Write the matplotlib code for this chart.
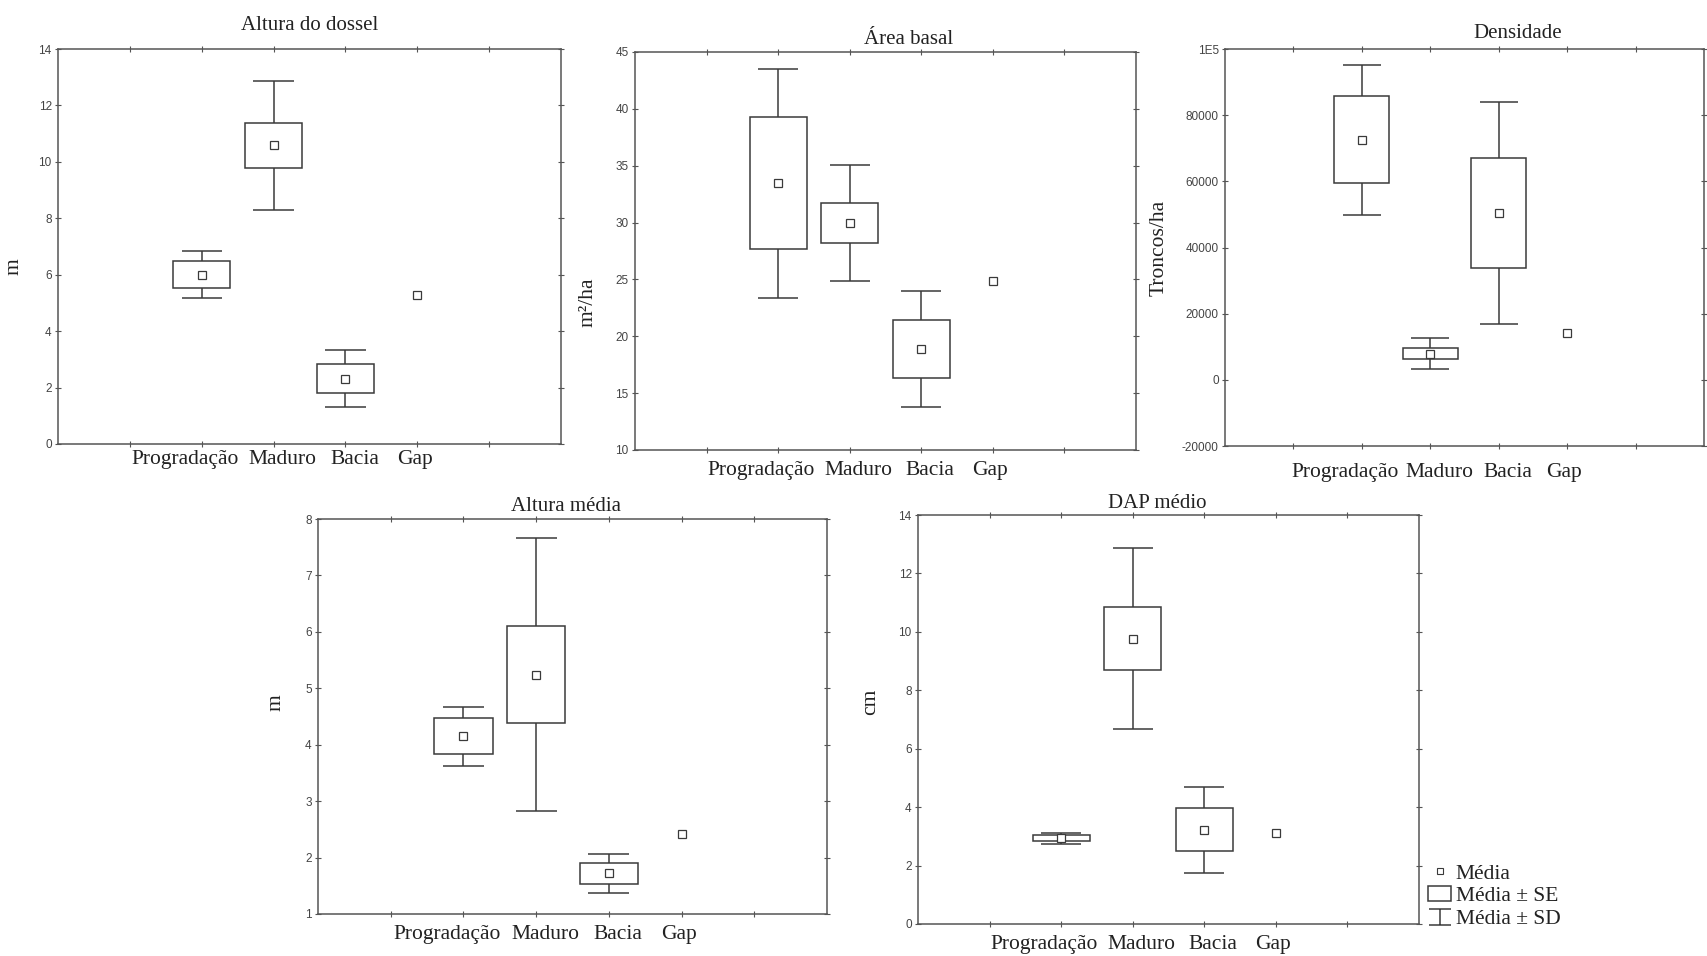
import numpy as np
import matplotlib
matplotlib.use('Agg')
import matplotlib.pyplot as plt
import matplotlib.transforms as mtransforms
from matplotlib.lines import Line2D
from matplotlib.patches import Patch
from matplotlib.path import Path

categories = ['Progradação', 'Maduro', 'Bacia', 'Gap']

# mean, standard error, standard deviation per category (Gap has only the mean)
dossel_mean = [6.0, 10.58, 2.32, 5.28]
dossel_se = [0.48, 0.81, 0.50, np.nan]
dossel_sd = [0.84, 2.30, 1.01, np.nan]

basal_mean = [33.45, 29.97, 18.87, 24.85]
basal_se = [5.80, 1.79, 2.55, np.nan]
basal_sd = [10.06, 5.10, 5.08, np.nan]

dens_mean = [72600, 7900, 50400, 14100]
dens_se = [13130, 1670, 16570, np.nan]
dens_sd = [22680, 4700, 33480, np.nan]

altmed_mean = [4.15, 5.24, 1.72, 2.41]
altmed_se = [0.315, 0.855, 0.18, np.nan]
altmed_sd = [0.525, 2.415, 0.35, np.nan]

dap_mean = [2.94, 9.77, 3.22, 3.13]
dap_se = [0.115, 1.085, 0.735, np.nan]
dap_sd = [0.185, 3.10, 1.475, np.nan]

W, H = 1707, 956
ink = '#3a3a3a'
serif = 'Liberation Serif'
sans = 'Liberation Sans'

# horizontal nudge of each category label (points), as placed in the original
label_shift = [-12, 6.5, 6.5, -2]

fig = plt.figure(figsize=(W / 100, H / 100), dpi=100)


def make_axes(l, t, r, b):
    return fig.add_axes([l / W, 1 - b / H, (r - l) / W, (b - t) / H])


def panel(rect, mean, se, sd, title, ylabel, ylim, yticks, yticklabels,
          title_x, title_pad, lab_x, lab_y, xpad):
    ax = make_axes(*rect)
    x = np.arange(2, 2 + len(categories))
    mean = np.array(mean, dtype=float)
    se = np.array(se, dtype=float)
    sd = np.array(sd, dtype=float)
    ok = ~np.isnan(sd)
    # SD whiskers and caps
    ax.vlines(x[ok], mean[ok] - sd[ok], mean[ok] + sd[ok], color=ink, lw=1.1, zorder=1)
    ax.hlines(mean[ok] + sd[ok], x[ok] - 0.28, x[ok] + 0.28, color=ink, lw=1.1, zorder=1)
    ax.hlines(mean[ok] - sd[ok], x[ok] - 0.28, x[ok] + 0.28, color=ink, lw=1.1, zorder=1)
    # SE boxes
    ax.bar(x[ok], 2 * se[ok], bottom=mean[ok] - se[ok], width=0.8,
           color='white', edgecolor=ink, linewidth=1.1, zorder=2)
    # means
    ax.plot(x, mean, ls='none', marker='s', ms=5.5, mfc='white', mec=ink, mew=0.9, zorder=3)

    ax.set_xlim(0, 7)
    ax.set_ylim(*ylim)
    ax.set_xticks(range(1, 7))
    ax.set_xticklabels([''] + categories + [''], fontfamily=serif, fontsize=15.5, color='#222')
    ax.set_yticks(yticks)
    ax.set_yticklabels(yticklabels, fontfamily=sans, fontsize=8.5, color='#444')
    ax.tick_params(axis='x', pad=xpad)
    ax.tick_params(axis='y', pad=2)
    ax.tick_params(direction='inout', length=5, width=0.8, color='#555',
                   top=True, right=True)
    for lbl, dx in zip(ax.get_xticklabels()[1:5], label_shift):
        lbl.set_transform(lbl.get_transform() +
                          mtransforms.ScaledTranslation(dx / 72, 0, fig.dpi_scale_trans))
    for s in ax.spines.values():
        s.set_color('#555')
        s.set_linewidth(1.1)
    ax.set_title(title, fontfamily=serif, fontsize=15, x=title_x, pad=title_pad, color='#222')
    ax.set_ylabel(ylabel, fontfamily=serif, fontsize=15.5, color='#222')
    ax.yaxis.set_label_coords(lab_x, lab_y)
    return ax


panel((58, 49, 561, 444), dossel_mean, dossel_se, dossel_sd, 'Altura do dossel', 'm',
      (0, 14), range(0, 15, 2), [str(v) for v in range(0, 15, 2)],
      0.5, 14, -0.068, 0.45, 1.5)

panel((635, 52, 1136, 450), basal_mean, basal_se, basal_sd, 'Área basal', 'm²/ha',
      (10, 45), range(10, 46, 5), [str(v) for v in range(10, 46, 5)],
      0.547, 6, -0.074, 0.37, 5.5)

dens_ticks = list(range(-20000, 100001, 20000))
panel((1225, 49, 1704, 446), dens_mean, dens_se, dens_sd, 'Densidade', 'Troncos/ha',
      (-20000, 100000), dens_ticks, [str(v) for v in dens_ticks[:-1]] + ['1E5'],
      0.61, 8, -0.118, 0.5, 9.5)

panel((318, 519, 827, 914), altmed_mean, altmed_se, altmed_sd, 'Altura média', 'm',
      (1, 8), range(1, 9), [str(v) for v in range(1, 9)],
      0.487, 6, -0.063, 0.534, 5.5)

panel((918, 515, 1419, 924), dap_mean, dap_se, dap_sd, 'DAP médio', 'cm',
      (0, 14), range(0, 15, 2), [str(v) for v in range(0, 15, 2)],
      0.477, 5, -0.076, 0.543, 5.5)

# legend
ibeam = Path([(-1, 0.7), (1, 0.7), (0, 0.7), (0, -0.7), (-1, -0.7), (1, -0.7)],
             [Path.MOVETO, Path.LINETO, Path.MOVETO, Path.LINETO, Path.MOVETO, Path.LINETO])
handles = [
    Line2D([], [], ls='none', marker='s', ms=4.5, mfc='white', mec=ink, mew=0.8),
    Patch(facecolor='white', edgecolor=ink, linewidth=1.1),
    Line2D([], [], ls='none', marker=ibeam, ms=16, mfc='none', mec=ink, mew=1.1),
]
fig.legend(handles, ['Média', 'Média ± SE', 'Média ± SD'], loc='upper left',
           bbox_to_anchor=(1417 / W, 1 - 853 / H), frameon=False,
           prop={'family': serif, 'size': 15.5}, handlelength=1.1, handletextpad=0.2,
           labelspacing=0.12, borderpad=0, labelcolor='#222')

fig.savefig('out.png', dpi=100, facecolor='white')
